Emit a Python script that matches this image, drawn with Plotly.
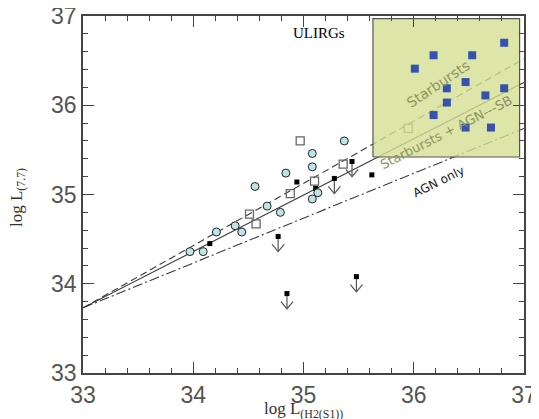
import plotly.graph_objects as go

# ---------------- data ----------------
# Sample with cyan open circles
circ_x = [33.97, 34.09, 34.21, 34.38, 34.44, 34.67, 34.79, 34.56, 34.84, 35.08, 35.08, 35.37, 35.13, 35.08]
circ_y = [34.36, 34.36, 34.58, 34.65, 34.58, 34.87, 34.80, 35.09, 35.24, 35.46, 35.31, 35.60, 35.02, 34.95]

# open squares
osq_x = [34.51, 34.57, 34.88, 35.10, 35.36, 34.97, 35.95]
osq_y = [34.78, 34.67, 35.01, 35.15, 35.34, 35.60, 35.74]

# small filled black squares (detections)
fsq_x = [34.15, 34.94, 35.11, 35.62]
fsq_y = [34.45, 35.14, 35.07, 35.22]

# upper limits (filled square + down arrow)
ul_x = [34.77, 34.85, 35.48, 35.28, 35.44]
ul_y = [34.53, 33.89, 34.08, 35.18, 35.37]

# ULIRGs (blue filled squares)
ulirg_x = [36.82, 36.18, 36.53, 36.01, 36.47, 36.30, 36.82, 36.65, 36.30, 36.18, 36.47, 36.70]
ulirg_y = [36.70, 36.56, 36.56, 36.41, 36.26, 36.19, 36.19, 36.11, 36.03, 35.89, 35.75, 35.75]

# model lines
line_x = [33.0, 37.0]
sb_y = [33.73, 36.52]      # Starbursts
sbagn_y = [33.73, 36.255]  # Starbursts + AGN
agn_y = [33.73, 35.74]     # AGN only

# ULIRG region box
box_x = [35.63, 36.96, 36.96, 35.63, 35.63]
box_y = [35.42, 35.42, 36.97, 36.97, 35.42]

tick_vals = [33, 34, 35, 36, 37]
tick_text = ["33", "34", "35", "36", "37"]

# ---------------- figure ----------------
fig = go.Figure()
LC = "#3a3a3a"

fig.add_trace(go.Scatter(x=line_x, y=sb_y, mode="lines",
                         line=dict(color=LC, width=1.1, dash="7px,4px")))
fig.add_trace(go.Scatter(x=line_x, y=sbagn_y, mode="lines",
                         line=dict(color=LC, width=1.1)))
fig.add_trace(go.Scatter(x=line_x, y=agn_y, mode="lines",
                         line=dict(color=LC, width=1.1, dash="10px,3px,2px,3px")))

# arrows for upper limits
stem_x, stem_y, chev_x, chev_y = [], [], [], []
for xv, yv in zip(ul_x, ul_y):
    stem_x += [xv, xv, None]
    stem_y += [yv, yv - 0.17, None]
    chev_x += [xv - 0.055, xv, xv + 0.055, None]
    chev_y += [yv - 0.09, yv - 0.17, yv - 0.09, None]
fig.add_trace(go.Scatter(x=stem_x, y=stem_y, mode="lines",
                         line=dict(color="#555", width=1.2)))
fig.add_trace(go.Scatter(x=chev_x, y=chev_y, mode="lines",
                         line=dict(color="#555", width=1.2)))
fig.add_trace(go.Scatter(x=ul_x, y=ul_y, mode="markers",
                         marker=dict(symbol="square", size=5, color="black")))

fig.add_trace(go.Scatter(x=fsq_x, y=fsq_y, mode="markers",
                         marker=dict(symbol="square", size=5, color="black")))
fig.add_trace(go.Scatter(x=osq_x, y=osq_y, mode="markers",
                         marker=dict(symbol="square-open", size=8, color="#666",
                                     line=dict(width=1.3))))
fig.add_trace(go.Scatter(x=circ_x, y=circ_y, mode="markers",
                         marker=dict(symbol="circle", size=8, color="#bfe4e4",
                                     line=dict(color="#222", width=1))))

# ULIRG box (semi-transparent, above lines)
fig.add_trace(go.Scatter(x=box_x, y=box_y, mode="lines", fill="toself",
                         fillcolor="rgba(214,223,146,0.8)",
                         line=dict(color="#555", width=1.2)))
fig.add_trace(go.Scatter(x=ulirg_x, y=ulirg_y, mode="markers",
                         marker=dict(symbol="square", size=8, color="#3552b0")))

ann = [
    dict(x=35.14, y=36.81, text="ULIRGs", showarrow=False,
         font=dict(family="Liberation Serif", size=15, color="black")),
    dict(x=36.22, y=36.24, text="Starbursts", showarrow=False, textangle=-34,
         font=dict(family="DejaVu Sans", size=14, color="#8a9560")),
    dict(x=36.29, y=35.70, text="Starbursts + AGN---SB", showarrow=False, textangle=-27,
         font=dict(family="DejaVu Sans", size=13, color="#8a9560")),
    dict(x=36.22, y=35.14, text="AGN only", showarrow=False, textangle=-26,
         font=dict(family="DejaVu Sans", size=12, color="#222")),
    # axis titles
    dict(xref="paper", yref="paper", x=0.5, y=0, yanchor="middle", yshift=-37,
         text="log L<sub>(H2(S1))</sub>", showarrow=False,
         font=dict(family="Liberation Serif", size=17, color="#333")),
    dict(xref="paper", yref="paper", x=0, y=0.49, xanchor="center", xshift=-65,
         text="log L<sub>(7.7)</sub>", showarrow=False, textangle=-90,
         font=dict(family="Liberation Serif", size=17, color="#333")),
]

axis_common = dict(
    tickmode="array", tickvals=tick_vals, ticktext=tick_text,
    ticks="inside", ticklen=11, tickwidth=1.3, tickcolor="#444",
    minor=dict(dtick=0.2, ticks="inside", ticklen=5, tickwidth=1.1, tickcolor="#444"),
    showline=True, linecolor="#444", linewidth=1.8, mirror="ticks",
    showgrid=False, zeroline=False, automargin=False,
    ticklabeloverflow="allow",
    tickfont=dict(family="Liberation Sans", size=23, color="#555"),
)

# page body adds an 8px offset; margins compensate so the plot area sits
# at the same place as in the reference
fig.update_layout(
    width=539, height=419,
    margin=dict(l=75, r=23, t=8, b=54),
    paper_bgcolor="white", plot_bgcolor="white",
    showlegend=False,
    annotations=ann,
    xaxis=dict(range=[33, 37], **axis_common),
    yaxis=dict(range=[33, 37], **axis_common),
)

fig.write_html("out.html")
